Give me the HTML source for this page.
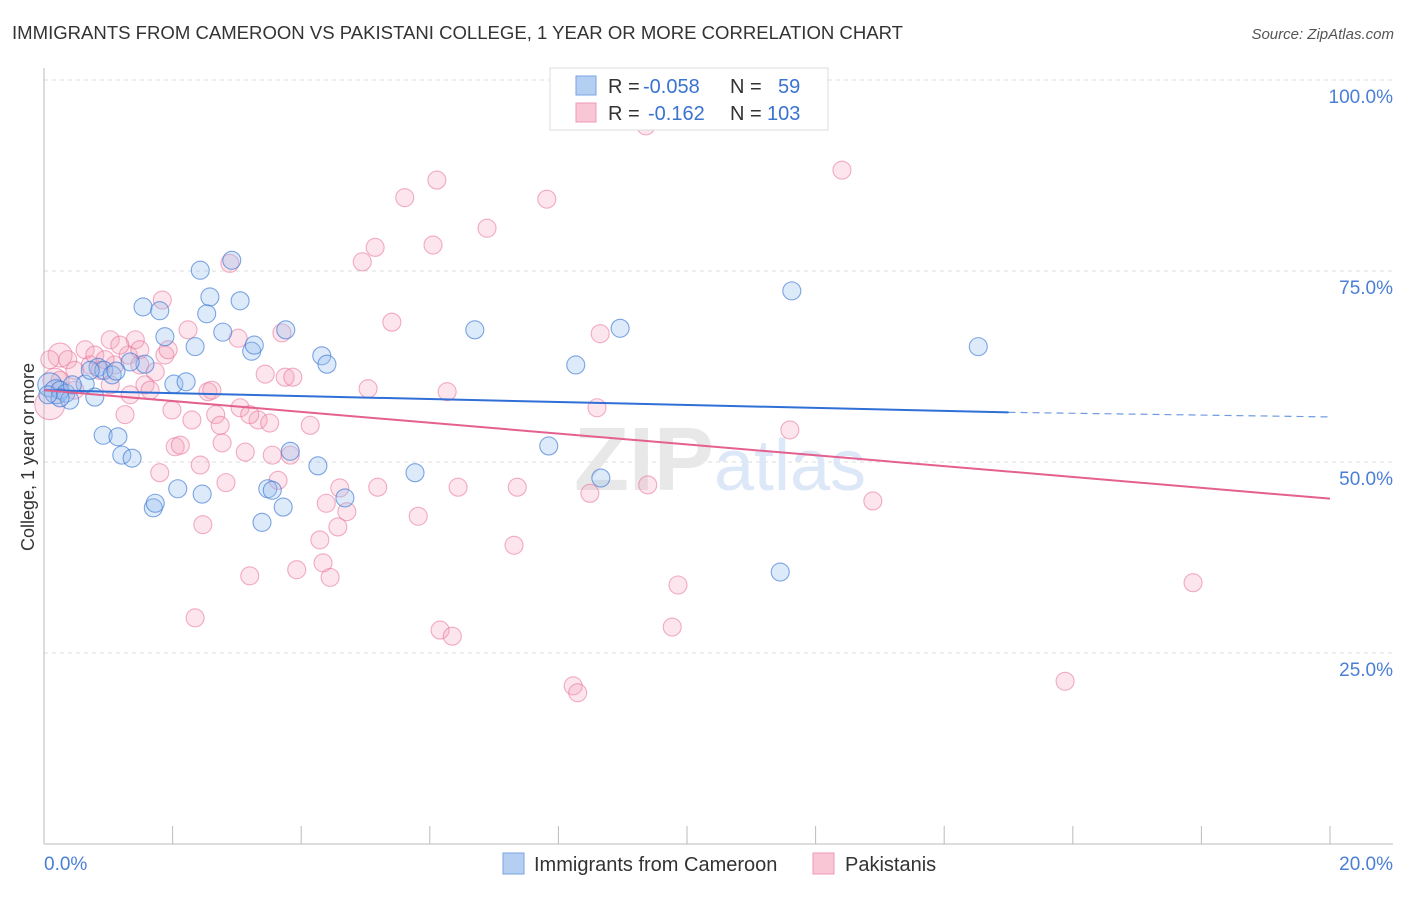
<!DOCTYPE html>
<html><head><meta charset="utf-8">
<style>
body{margin:0;background:#fff;font-family:"Liberation Sans",sans-serif;}
svg text{font-family:"Liberation Sans",sans-serif;}
</style></head>
<body>
<svg id="chart" width="1406" height="892" xmlns="http://www.w3.org/2000/svg">
<text x="12" y="39" font-size="18" fill="#333" textLength="891" lengthAdjust="spacingAndGlyphs">IMMIGRANTS FROM CAMEROON VS PAKISTANI COLLEGE, 1 YEAR OR MORE CORRELATION CHART</text>
<text x="1394" y="39" font-size="15" fill="#555" text-anchor="end" font-style="italic">Source: ZipAtlas.com</text>
<g id="grid"></g>
<text x="720" y="490" font-size="90" text-anchor="middle" fill="#e8e8e8" font-family="Liberation Serif" font-weight="bold">ZIP<tspan fill="#dce8f7" font-family="Liberation Sans" font-weight="normal" font-size="72">atlas</tspan></text>
<g id="pts"></g>
<g id="lines"></g>
<text transform="translate(34,457) rotate(-90)" font-size="18" fill="#333" text-anchor="middle">College, 1 year or more</text>
<text x="44" y="870" font-size="19" fill="#4a7fd6">0.0%</text>
<text x="1393" y="870" font-size="19" fill="#4a7fd6" text-anchor="end">20.0%</text>
<g>
<rect x="550" y="68" width="278" height="62" fill="#fff" stroke="#ddd"/>
<rect x="576" y="76" width="20" height="19" fill="#b5cff3" stroke="#7aa3e0"/>
<rect x="576" y="103" width="20" height="19" fill="#f9c6d5" stroke="#ee9ab4"/>
<text x="608" y="93" font-size="20" fill="#333">R = <tspan fill="#3a73d0" x="643">-0.058</tspan><tspan x="730">N = </tspan><tspan fill="#3a73d0" x="778">59</tspan></text>
<text x="608" y="120" font-size="20" fill="#333">R = <tspan fill="#3a73d0" x="648">-0.162</tspan><tspan x="730">N = </tspan><tspan fill="#3a73d0" x="767">103</tspan></text>
</g>
<g>
<rect x="503" y="853" width="21" height="21" fill="#b5cff3" stroke="#7aa3e0"/>
<text x="534" y="871" font-size="20" fill="#333">Immigrants from Cameroon</text>
<rect x="813" y="853" width="21" height="21" fill="#f9c6d5" stroke="#ee9ab4"/>
<text x="845" y="871" font-size="20" fill="#333">Pakistanis</text>
</g>
</svg>
<script>
const yTicks=[25,50,75,100];
const yTickLabels=["25.0%","50.0%","75.0%","100.0%"];
const xTicks=[0,2,4,6,8,10,12,14,16,18,20];
const blueX=[0.09,0.19,0.25,0.34,0.40,0.64,0.79,0.84,0.93,1.06,0.92,1.15,1.21,1.37,1.70,1.73,1.54,1.80,1.88,1.57,2.02,2.21,2.08,2.43,2.58,2.53,2.35,2.78,3.05,2.92,3.23,3.27,3.76,2.46,3.39,3.48,3.55,3.72,3.83,4.32,4.40,4.26,4.68,5.77,6.70,7.85,8.27,8.66,8.96,11.45,11.63,14.53,0.25,0.06,0.72,1.34,1.12,0.44];
const blueY=[60.1,59.2,59.4,59.0,58.1,60.2,58.5,62.4,62.0,61.4,53.5,53.3,50.9,50.5,44.0,44.6,70.3,69.8,66.4,62.8,60.2,60.5,46.5,75.1,71.6,69.4,65.1,67.0,71.1,76.4,64.5,65.3,67.3,45.8,42.1,46.5,46.3,44.1,51.4,63.9,62.8,49.5,45.3,48.6,67.3,52.1,62.7,47.9,67.5,35.6,72.4,65.1,58.4,58.8,62.0,63.1,61.9,60.1];
const pinkX=[0.09,0.17,0.25,0.37,0.48,0.64,0.72,0.87,1.03,1.10,1.26,1.31,1.42,1.49,1.57,1.65,1.80,1.88,1.84,1.93,2.04,2.12,1.99,2.24,2.30,2.35,2.43,2.47,2.55,2.61,2.67,2.74,2.77,2.83,2.89,3.02,3.05,3.13,3.20,3.33,3.44,3.51,3.55,3.64,3.70,3.75,3.83,3.87,3.93,4.14,4.29,4.34,4.39,4.45,4.57,4.60,4.71,4.95,5.15,5.04,5.19,5.41,5.61,5.82,6.05,6.11,6.16,6.27,6.35,6.44,6.89,7.31,7.36,7.82,8.23,8.30,8.49,8.60,8.65,9.39,9.36,9.77,9.86,11.60,12.41,12.89,15.88,17.87,8.15,11.26,8.34,0.09,0.25,0.48,0.79,1.34,1.03,1.18,1.49,1.73,0.95,3.20];
const pinkY=[57.5,60.7,64.0,63.4,62.0,64.7,62.7,62.0,60.1,62.7,56.2,64.0,66.0,64.7,60.1,59.4,48.6,64.0,71.2,64.7,52.0,52.2,56.8,67.3,55.5,29.6,49.6,41.8,59.2,59.4,56.2,54.8,52.5,47.3,76.0,66.2,57.1,51.3,35.1,55.5,61.5,55.1,50.9,47.6,66.9,61.1,50.9,61.1,35.9,54.8,39.8,36.8,44.6,34.9,41.5,46.6,43.5,76.2,78.1,59.6,46.7,68.3,84.6,42.9,78.4,86.9,28.0,59.2,27.2,46.7,80.6,39.1,46.7,84.4,20.7,19.8,45.9,57.1,66.8,47.0,94.0,28.4,33.9,54.2,88.2,44.9,21.3,34.2,98.7,98.0,97.4,63.4,60.7,59.4,64.0,58.8,66.0,65.3,62.7,61.8,63.4,56.2];
const blueTrend=[59.4,56.5,55.9];
const pinkTrend=[59.4,45.2];
const NS="http://www.w3.org/2000/svg";
const X0=44,X1=1330,Y0=844,Y1=80;
function sx(v){return X0+(v/20)*(X1-X0);}
function sy(v){return Y0-(v/100)*(Y0-Y1);}
function mk(tag,attrs,parent){const e=document.createElementNS(NS,tag);for(const k in attrs)e.setAttribute(k,attrs[k]);parent.appendChild(e);return e;}
const grid=document.getElementById('grid');
yTicks.forEach((t,i)=>{
  const l=mk('line',{x1:X0,x2:1393,y1:sy(t),y2:sy(t),stroke:'#ddd','stroke-dasharray':'4,4'},grid);
  
  
  const tx=mk('text',{x:1393,y:sy(t)+23,'font-size':19,fill:'#4a7fd6','text-anchor':'end'},grid);
  tx.textContent=yTickLabels[i];
  
  
});
const ax=mk('line',{x1:X0,x2:X0,y1:68,y2:Y0,stroke:'#bbb'},grid);


const bx=mk('line',{x1:X0,x2:1393,y1:Y0,y2:Y0,stroke:'#bbb'},grid);


xTicks.forEach(t=>{
  const l=mk('line',{x1:sx(t),x2:sx(t),y1:Y0-18,y2:Y0,stroke:'#bbb'},grid);
  
  
});
const pts=document.getElementById('pts');
pinkX.forEach((v,i)=>{
  const r=(i===0)?15:(i<3?12:9);
  const c=mk('circle',{cx:sx(v),cy:sy(pinkY[i]),r:r,fill:'rgba(244,160,186,0.28)',stroke:'rgba(232,110,150,0.55)','stroke-width':1.1},pts);
  
  
});
blueX.forEach((v,i)=>{
  const r=(i<2)?12:9;
  const c=mk('circle',{cx:sx(v),cy:sy(blueY[i]),r:r,fill:'rgba(150,190,240,0.32)',stroke:'rgba(60,120,210,0.65)','stroke-width':1.1},pts);
  
  
});
const lines=document.getElementById('lines');
const bl=mk('line',{x1:sx(0),y1:sy(blueTrend[0]),x2:sx(15),y2:sy(blueTrend[1]),stroke:'#2f6fd6','stroke-width':2},lines);


const bd=mk('line',{x1:sx(15),y1:sy(blueTrend[1]),x2:sx(20),y2:sy(blueTrend[2]),stroke:'#6f9be0','stroke-width':1.2,'stroke-dasharray':'7,5'},lines);


const pl=mk('line',{x1:sx(0),y1:sy(pinkTrend[0]),x2:sx(20),y2:sy(pinkTrend[1]),stroke:'#e4608e','stroke-width':2},lines);


</script>
</body></html>
